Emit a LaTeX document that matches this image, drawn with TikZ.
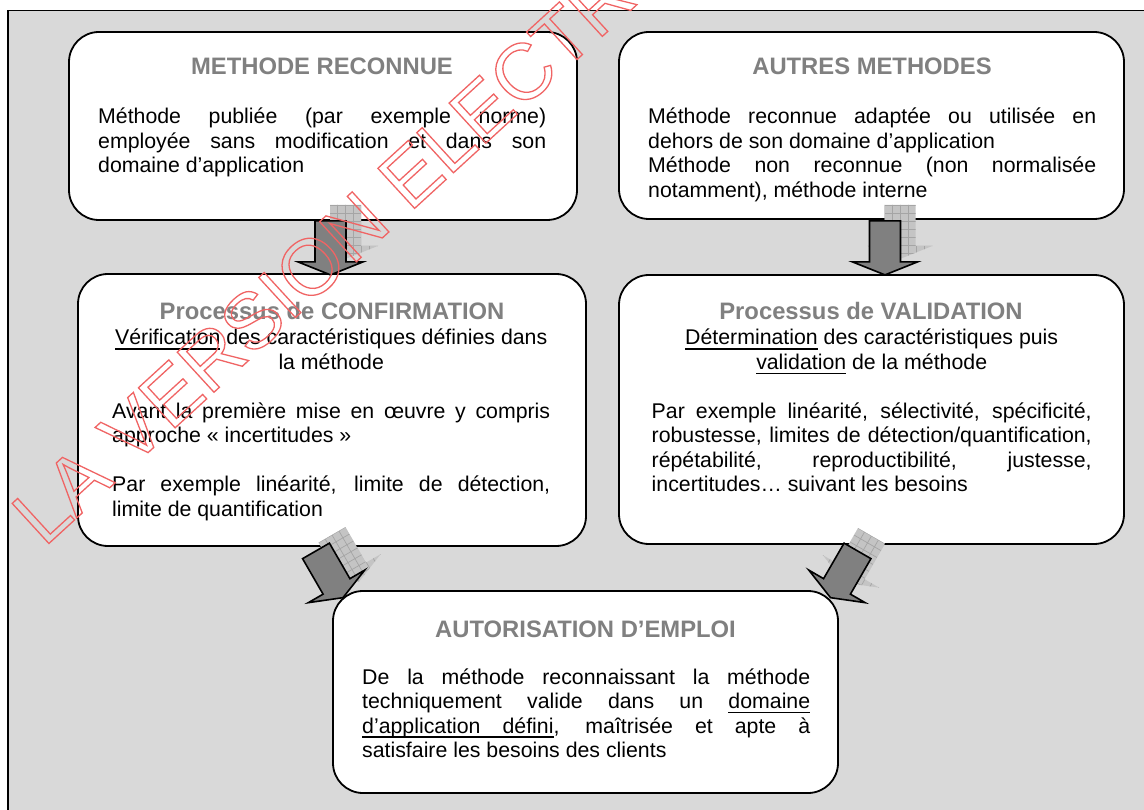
\documentclass[tikz,border=0pt]{standalone}
\usepackage{fontspec}
\setmainfont{Liberation Sans}
\definecolor{bggray}{RGB}{217,217,217}
\definecolor{titlegray}{RGB}{128,128,128}
\definecolor{arrowgray}{RGB}{128,128,128}
\definecolor{shadowgray}{RGB}{196,196,196}
\definecolor{gridgray}{RGB}{165,165,165}
\definecolor{wmred}{RGB}{240,100,100}
\tolerance=10000
\hbadness=10000
\hfuzz=20pt
\newcommand\ulx[1]{\leavevmode\setbox0\hbox{#1}\rlap{\rule[-4.6pt]{\wd0}{1.5pt}}\box0{}}
\newcommand\ulspace{\leaders\hrule height -3.1pt depth 4.6pt\hskip\fontdimen2\font plus\fontdimen3\font minus\fontdimen4\font\relax}
\newcommand\bodyfont{\fontsize{21.3}{24.5}\selectfont}
\begin{document}
\begin{tikzpicture}[x=1pt,y=-1pt,
  box/.style={draw=black, line width=1.8pt, fill=white, rounded corners=30pt,
    rectangle, inner sep=0pt},
  ttl/.style={anchor=base, inner sep=0pt, text=titlegray,
    font=\fontsize{23.8}{28}\selectfont\bfseries},
  body/.style={anchor=base west, inner sep=0pt, font=\bodyfont},
  arrowshape/.style={fill=arrowgray, draw=black, line width=1.6pt, line join=miter},
  blockarrow/.pic={\path[arrowshape] (-15.5,0) -- (15.5,0) -- (15.5,41) -- (32.5,41)
    -- (0,54) -- (-32.5,41) -- (-15.5,41) -- cycle;},
  blockshadow/.pic={
    \fill[shadowgray] (-15.5,0) -- (15.5,0) -- (15.5,41) -- (32.5,41)
      -- (0,54) -- (-32.5,41) -- (-15.5,41) -- cycle;
    \begin{scope}
      \clip (-15.5,0) -- (15.5,0) -- (15.5,41) -- (32.5,41)
        -- (0,54) -- (-32.5,41) -- (-15.5,41) -- cycle;
      \draw[gridgray, line width=0.7pt, step=8pt] (-40,-4) grid (40,60);
    \end{scope}},
  wm/.style={inner sep=0pt, text=wmred, font=\fontsize{79}{90}\selectfont}
]
\path[use as bounding box] (0,0) rectangle (1144,810);
% frame
\draw[fill=bggray, line width=1.5pt] (8,10.5) rectangle (1170,840);

% boxes
\node[box, minimum width=508pt, minimum height=188pt] (b1) at (323,126) {};
\node[box, minimum width=505pt, minimum height=187pt] (b2) at (871.5,125.5) {};
\node[box, minimum width=508pt, minimum height=272pt] (b3) at (332,410) {};
\node[box, minimum width=505pt, minimum height=269pt] (b4) at (871.5,409.5) {};
\node[box, minimum width=505pt, minimum height=202pt] (b5) at (585.5,692) {};

% titles
\node[ttl] (h1) at (322,74.5) {METHODE RECONNUE};
\node[ttl] (h2) at (872,74.5) {AUTRES METHODES};
\node[ttl] (h3) at (332,320) {Processus de CONFIRMATION};
\node[ttl] (h4) at (871,320) {Processus de VALIDATION};
\node[ttl] (h5) at (585.5,637) {AUTORISATION D’EMPLOI};

% bodies
\node[body] (t1) at (98,124) {\parbox[t]{448pt}{Méthode publiée (par exemple norme)\linebreak
employée sans modification et dans son\linebreak domaine d’application}};
\node[body] (t2) at (648,124) {\parbox[t]{448pt}{Méthode reconnue adaptée ou utilisée en\linebreak
dehors de son domaine d’application\par
Méthode non reconnue (non normalisée\linebreak notamment), méthode interne}};
\node[body] (t3) at (112,345) {\parbox[t]{438pt}{{\centering \ulx{Vérification} des caractéristiques définies dans\\
la méthode\par}\vspace{24.5pt}
Avant la première mise en œuvre y compris\linebreak approche «~incertitudes~»\par\vspace{24.5pt}
Par exemple linéarité, limite de détection,\linebreak limite de quantification}};
\node[body] (t4) at (651.5,345) {\parbox[t]{440pt}{{\centering \ulx{Détermination} des caractéristiques puis\\
\ulx{validation} de la méthode\par}\vspace{24.5pt}
Par exemple linéarité, sélectivité, spécificité,\linebreak
robustesse, limites de détection/quantification,\linebreak
répétabilité, reproductibilité, justesse,\linebreak
incertitudes… suivant les besoins}};
\node[body] (t5) at (362,684) {\parbox[t]{448pt}{De la méthode reconnaissant la méthode\linebreak
techniquement valide dans un \ulx{domaine}\linebreak
\ulx{d’application}\ulspace\ulx{défini}, maîtrisée et apte à\linebreak
satisfaire les besoins des clients}};

% arrow anchors
\coordinate (a1) at ([xshift=7.5pt]b1.south);
\coordinate (a2) at ([xshift=13.5pt,yshift=-1pt]b2.south);
\coordinate (a3) at ([xshift=-16pt,yshift=-4pt]b3.south);
\coordinate (a4) at ([xshift=-14pt,yshift=-6pt]b4.south);

% shadows
\pic at ([xshift=15pt,yshift=16pt]a1) {blockshadow};
\pic at ([xshift=15pt,yshift=16pt]a2) {blockshadow};
\pic[rotate=30] at ([xshift=16pt,yshift=16pt]a3) {blockshadow};
\pic[rotate=-30] at ([xshift=14pt,yshift=15pt]a4) {blockshadow};

% arrows
\pic at (a1) {blockarrow};
\pic at (a2) {blockarrow};
\pic[rotate=30] at (a3) {blockarrow};
\pic[rotate=-30] at (a4) {blockarrow};

% watermark
\node[wm, rotate=42.5, anchor=base west] (wmk) at (44,548)
  {\special{pdf:literal direct 1 Tr 1.3 w}LA VERSION ELECTRONIQUE FAIT FOI\special{pdf:literal direct 0 Tr}};
\end{tikzpicture}
\end{document}
